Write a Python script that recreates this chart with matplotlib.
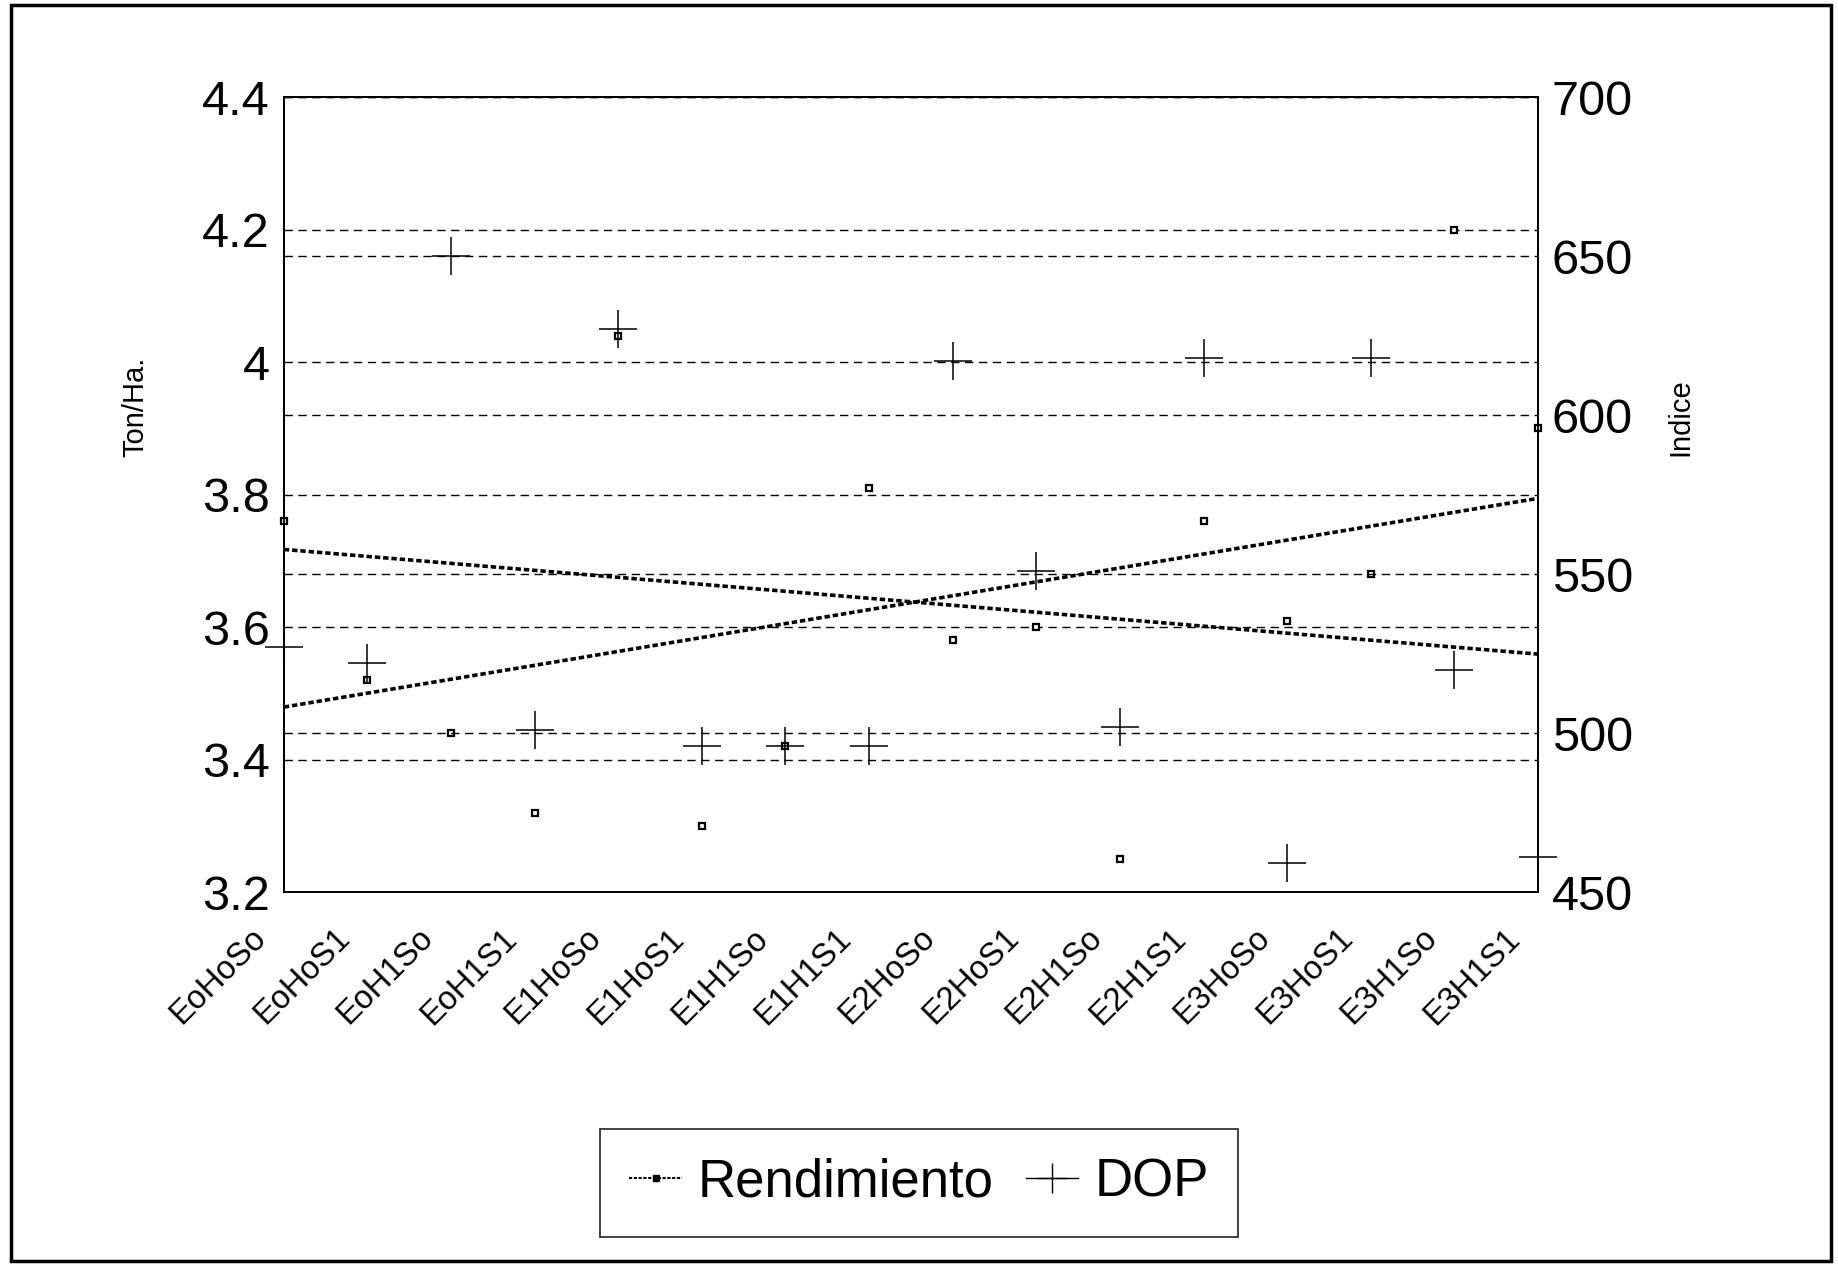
import matplotlib
matplotlib.use("Agg")
import matplotlib.pyplot as plt
from matplotlib.lines import Line2D
from matplotlib.patches import Rectangle
from matplotlib.transforms import ScaledTranslation
import numpy as np

plt.rcParams['font.family'] = ['Liberation Sans', 'DejaVu Sans']

# categories on x axis
categories = ["EoHoSo", "EoHoS1", "EoH1So", "EoH1S1",
              "E1HoSo", "E1HoS1", "E1H1So", "E1H1S1",
              "E2HoSo", "E2HoS1", "E2H1So", "E2H1S1",
              "E3HoSo", "E3HoS1", "E3H1So", "E3H1S1"]

# Rendimiento (Ton/Ha.) - left axis
rendimiento = [3.76, 3.52, 3.44, 3.32, 4.04, 3.30, 3.42, 3.81,
               3.58, 3.60, 3.25, 3.76, 3.61, 3.68, 4.20, 3.90]

# DOP (Indice) - right axis
dop = [527, 522, 650, 501, 627, 496, 496, 496,
       617, 551, 502, 618, 459, 618, 520, 461]

leftTicks = [3.2, 3.4, 3.6, 3.8, 4.0, 4.2, 4.4]
leftTickLabels = ["3.2", "3.4", "3.6", "3.8", "4", "4.2", "4.4"]
rightTicks = [450, 500, 550, 600, 650, 700]

fig = plt.figure(figsize=(18.38, 12.66), dpi=100)
ax = fig.add_axes([0.1544, 0.2954, 0.6824, 0.6277])
ax2 = ax.twinx()

x = np.arange(len(categories))

# linear trend lines
rFit = np.polyfit(x, rendimiento, 1)
dFit = np.polyfit(x, dop, 1)

dashes = (0, (6, 4))
trendStyle = dict(color="black", lw=2.6, linestyle=(0, (1.5, 0.8)))

# left axis: Rendimiento
ax.plot(x, rendimiento, linestyle="none", marker="s", markersize=5,
        markerfacecolor="white", markeredgecolor="black",
        markeredgewidth=1.6, clip_on=False, zorder=3)
ax.plot(x, np.polyval(rFit, x), **trendStyle)
ax.set_ylim(3.2, 4.4)
ax.set_yticks(leftTicks)
ax.set_yticklabels(leftTickLabels)
ax.set_xlim(0, len(categories) - 1)
ax.set_xticks(x)
ax.set_xticklabels(categories, rotation=45, ha="right",
                   rotation_mode="anchor", fontsize=23.5)
ax.tick_params(axis="x", length=0, pad=22)
ax.tick_params(axis="y", length=0, pad=10, labelsize=35)
# shift the rotated labels a bit to the left
shift = ScaledTranslation(-24 / 72, 0, fig.dpi_scale_trans)
for lbl in ax.get_xticklabels():
    lbl.set_transform(lbl.get_transform() + shift)
ax.grid(axis="y", color="black", lw=1, linestyle=dashes)
ax.set_ylabel("Ton/Ha.", fontsize=21)
ax.yaxis.set_label_coords(-0.107, 0.61)

# right axis: DOP
ax2.plot(x, dop, linestyle="none", marker="+", markersize=28,
         markeredgewidth=1.1, color="black", clip_on=False, zorder=3)
ax2.plot(x, np.polyval(dFit, x), **trendStyle)
ax2.set_ylim(450, 700)
ax2.set_yticks(rightTicks)
ax2.tick_params(axis="y", length=0, pad=10, labelsize=35)
ax2.grid(axis="y", color="black", lw=1, linestyle=dashes)
ax2.set_ylabel("Indice", fontsize=21)
ax2.yaxis.set_label_coords(1.102, 0.597)

for a in (ax, ax2):
    for s in a.spines.values():
        s.set_linewidth(1.3)
        s.set_color("black")

# legend below the plot
handles = [Line2D([], [], color="black", lw=1.5, linestyle=(0, (1.5, 0.8)),
                  marker="s", markersize=4, markerfacecolor="black"),
           Line2D([], [], color="black", lw=1, marker="+", markersize=22,
                  markeredgewidth=1)]
fig.legend(handles, ["Rendimiento", "DOP"], loc="center",
           bbox_to_anchor=(0.5, 0.0656), ncol=2, fontsize=38,
           frameon=True, fancybox=False, edgecolor="black",
           handlelength=1.0, handletextpad=0.3, columnspacing=0.6,
           borderpad=0.55, borderaxespad=0)
fig.legends[0].get_frame().set_linewidth(1.3)

# frame around the whole figure
fig.patches.append(Rectangle((0.006, 0.004), 0.99, 0.992, transform=fig.transFigure,
                             fill=False, edgecolor="black", lw=2.5))

fig.savefig("out.png", dpi=100)
